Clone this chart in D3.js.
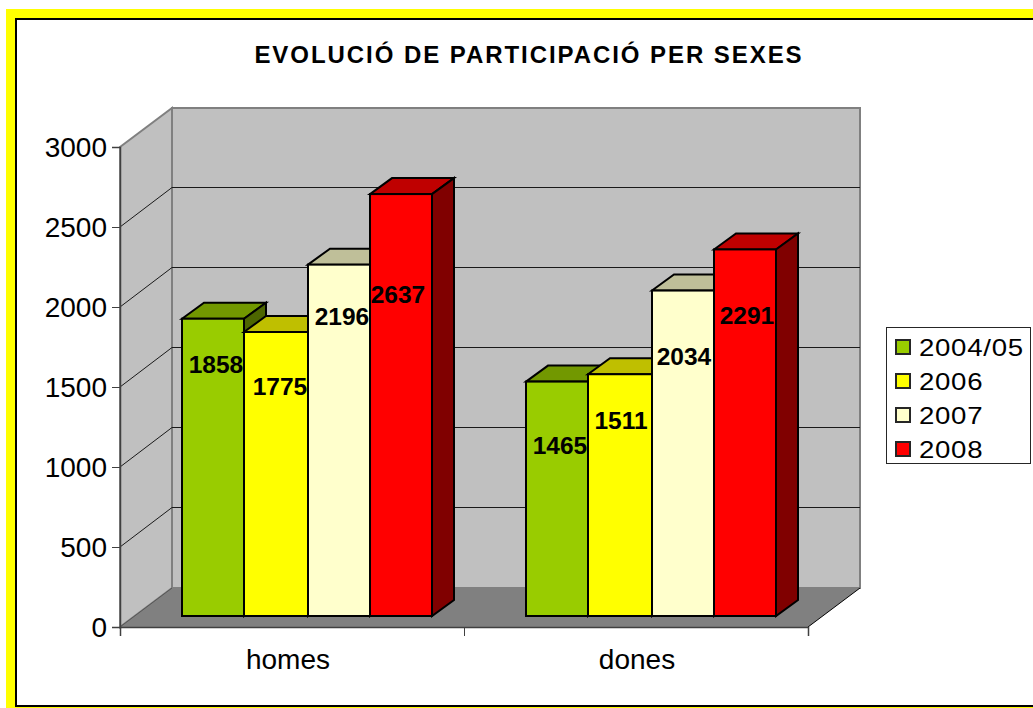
<!DOCTYPE html>
<html><head><meta charset="utf-8">
<script src="https://cdn.jsdelivr.net/npm/d3@7"></script>
<style>html,body{margin:0;padding:0;background:#fff;overflow:hidden}svg{display:block}text{font-family:"Liberation Sans",Arial,sans-serif}</style>
</head><body><svg id="c" width="1033" height="708"></svg>
<script>
const title = "EVOLUCIÓ DE PARTICIPACIÓ PER SEXES";
const categories = ["homes", "dones"];
const seriesNames = ["2004/05", "2006", "2007", "2008"];
const v2004 = [1858, 1465];
const v2006 = [1775, 1511];
const v2007 = [2196, 2034];
const v2008 = [2637, 2291];
const seriesValues = [v2004, v2006, v2007, v2008];
const yTicks = [0, 500, 1000, 1500, 2000, 2500, 3000];
const front = ["#99cc00", "#ffff00", "#ffffcc", "#ff0000"];
const topC = ["#729800", "#bfbf00", "#bfbf99", "#bf0000"];
const sideC = ["#4d6600", "#808000", "#808066", "#800000"];

// label placement: [dx from bar centre, dy from bar top]
const labelOff = [
  [[3, 45], [3, 64]],
  [[4, 54], [1, 46]],
  [[3, 52], [1, 66]],
  [[-3, 100], [2, 66]]
];
const catLabelShift = [-4, 1];
const edgeSnap = [0, -1, 1, 0, 0];

const svg = d3.select("#c");
// frame
svg.append("rect").attr("x", 6).attr("y", 9).attr("width", 1040).attr("height", 720).attr("fill", "#ffff00");
svg.append("rect").attr("x", 16).attr("y", 19).attr("width", 1040).attr("height", 687).attr("fill", "#fff").attr("stroke", "#000").attr("stroke-width", 2);

svg.append("text").attr("x", 529).attr("y", 63).attr("text-anchor", "middle")
  .attr("font-size", 24).attr("font-weight", "bold").attr("letter-spacing", "1.94px").attr("fill", "#000").text(title);

const x0 = 120, x1 = 808, y0 = 627, y1 = 147, wdx = 52, wdy = -39;
const y = d3.scaleLinear().domain([0, 3000]).range([y0, y1]);
const xc = d3.scaleBand().domain(categories).range([x0, x1]);
const poly = (pts, f, s, sw) => svg.append("polygon").attr("points", pts.map(p => p.join(",")).join(" "))
  .attr("fill", f).attr("stroke", s).attr("stroke-width", sw).attr("stroke-linejoin", "miter");

// walls
poly([[x0 + wdx, y1 + wdy], [x1 + wdx, y1 + wdy], [x1 + wdx, y0 + wdy], [x0 + wdx, y0 + wdy]], "#c0c0c0", "#808080", 2);
poly([[x0, y1], [x0 + wdx, y1 + wdy], [x0 + wdx, y0 + wdy], [x0, y0]], "#c0c0c0", "#808080", 2);
poly([[x0, y0], [x0 + wdx, y0 + wdy], [x1 + wdx, y0 + wdy], [x1, y0]], "#808080", "none", 0);

// gridlines
yTicks.slice(1, -1).forEach(t => {
  svg.append("polyline").attr("fill", "none").attr("stroke", "#1a1a1a").attr("stroke-width", 1)
    .attr("points", [[x0, y(t)], [x0 + wdx, y(t) + wdy - 0.5], [x1 + wdx, y(t) + wdy - 0.5]].map(p => p.join(",")).join(" "));
});
svg.append("line").attr("x1", x0).attr("x2", x0 + wdx).attr("y1", y0).attr("y2", y0 + wdy).attr("stroke", "#555");
svg.append("line").attr("x1", x1).attr("x2", x1 + wdx).attr("y1", y0).attr("y2", y0 + wdy).attr("stroke", "#000");

// axes
const yAxis = d3.axisLeft(y).tickValues(yTicks).tickSize(8).tickPadding(5).tickFormat(d3.format("d"));
const gy = svg.append("g").attr("transform", `translate(${x0},0)`).call(yAxis);
const xAxis = d3.axisBottom(d3.scalePoint().domain([0, 1, 2]).range([x0, x1])).tickSize(9).tickFormat("");
const gx = svg.append("g").attr("transform", `translate(0,${y0})`).call(xAxis);
[gy, gx].forEach(g => {
  g.select(".domain").attr("stroke", "#404040").attr("stroke-width", 1.5);
  g.selectAll(".tick line").attr("stroke", "#404040").attr("stroke-width", 1);
});
gy.selectAll("text").attr("font-size", 28).attr("fill", "#000").attr("y", 1).attr("font-family", '"Liberation Sans",Arial,sans-serif');
svg.append("g").selectAll("text").data(categories).join("text")
  .attr("x", (d, i) => xc(d) + xc.bandwidth() / 2 + catLabelShift[i]).attr("y", 669).attr("text-anchor", "middle")
  .attr("font-size", 28).attr("fill", "#000").text(d => d);

// bars
const bdx = 22, bdy = -16, base = 616;
const scaleH = d3.scaleLinear().domain([0, 3000]).range([0, y0 - y1]);
const inner = d3.scaleBand().domain(d3.range(seriesNames.length)).range([62, 312]);
const labels = [];
categories.forEach((c, ci) => {
  seriesNames.forEach((s, si) => {
    const val = seriesValues[si][ci];
    const xl = Math.round(xc(c) + inner(si)) + edgeSnap[si], xr = Math.round(xc(c) + inner(si) + inner.bandwidth()) + edgeSnap[si + 1];
    const t = base - scaleH(val);
    poly([[xl, t], [xl + bdx, t + bdy], [xr + bdx, t + bdy], [xr, t]], topC[si], "#000", 2);
    poly([[xr, t], [xr + bdx, t + bdy], [xr + bdx, base + bdy], [xr, base]], sideC[si], "#000", 2);
    svg.append("rect").attr("x", xl).attr("y", t).attr("width", xr - xl).attr("height", base - t)
      .attr("fill", front[si]).attr("stroke", "#000").attr("stroke-width", 2);
    labels.push({val, x: (xl + xr) / 2 + labelOff[si][ci][0], y: t + labelOff[si][ci][1]});
  });
});
svg.append("g").selectAll("text").data(labels).join("text")
  .attr("x", d => d.x).attr("y", d => d.y).attr("dy", "0.36em").attr("text-anchor", "middle")
  .attr("font-size", 24.5).attr("font-weight", "bold").attr("fill", "#000").text(d => d.val);

// legend
svg.append("rect").attr("x", 886.5).attr("y", 327.5).attr("width", 144).attr("height", 136)
  .attr("fill", "#fff").attr("stroke", "#262626").attr("stroke-width", 1);
const ly = d3.scalePoint().domain(seriesNames).range([347, 449]);
const lg = svg.append("g").selectAll("g").data(seriesNames).join("g");
lg.append("rect").attr("x", 896).attr("y", d => ly(d) - 7).attr("width", 14).attr("height", 14)
  .attr("fill", (d, i) => front[i]).attr("stroke", "#262626").attr("stroke-width", 2);
lg.append("text").attr("transform", d => `translate(919,${ly(d) + 1}) scale(1.2,1)`).attr("dy", "0.36em")
  .attr("font-size", 23).attr("letter-spacing", "0.6px").attr("fill", "#000").text(d => d);
</script></body></html>
